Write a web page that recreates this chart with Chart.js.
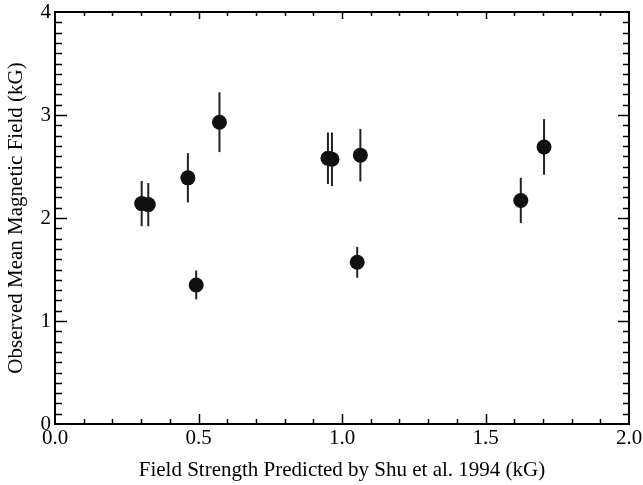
<!DOCTYPE html>
<html>
<head>
<meta charset="utf-8">
<script src="https://cdn.jsdelivr.net/npm/chart.js@4.4.1/dist/chart.umd.min.js"></script>
<style>
  html, body { margin: 0; padding: 0; background: #fff; }
  #plot { display: block; }
</style>
</head>
<body>
<canvas id="plot" width="643" height="485"></canvas>
<script>
// Shu et al. predicted field vs observed mean field (kG)
const predicted = [0.302, 0.325, 0.463, 0.492, 0.573, 0.951, 0.965, 1.053, 1.064, 1.623, 1.704];
const observed  = [2.14, 2.13, 2.39, 1.35, 2.93, 2.58, 2.57, 1.57, 2.61, 2.17, 2.69];
const obsError  = [0.22, 0.21, 0.24, 0.14, 0.29, 0.25, 0.26, 0.15, 0.255, 0.22, 0.27];

const xTicks = [0, 0.5, 1.0, 1.5, 2.0];
const yTicks = [0, 1, 2, 3, 4];

const points = predicted.map((x, i) => ({ x: x, y: observed[i] }));

// vertical error bars, drawn under the markers
const errorBars = {
  id: 'errorBars',
  beforeDatasetsDraw(chart) {
    const ctx = chart.ctx;
    const xs = chart.scales.x, ys = chart.scales.y;
    ctx.save();
    ctx.strokeStyle = '#222';
    ctx.lineWidth = 2;
    predicted.forEach((x, i) => {
      const px = xs.getPixelForValue(x);
      ctx.beginPath();
      ctx.moveTo(px, ys.getPixelForValue(observed[i] - obsError[i]));
      ctx.lineTo(px, ys.getPixelForValue(observed[i] + obsError[i]));
      ctx.stroke();
    });
    ctx.restore();
  }
};

// box frame with inward ticks on all four sides
const frame = {
  id: 'frame',
  afterDraw(chart) {
    const ctx = chart.ctx;
    const a = chart.chartArea;
    const xs = chart.scales.x, ys = chart.scales.y;
    ctx.save();
    ctx.strokeStyle = '#000';
    ctx.lineWidth = 2;
    ctx.strokeRect(a.left, a.top, a.right - a.left, a.bottom - a.top);
    ctx.lineWidth = 1.5;
    ctx.beginPath();
    for (let k = 1; k < 20; k++) {
      const v = k / 10;
      const major = k % 5 === 0;
      const px = Math.round(xs.getPixelForValue(v)) + 0.5;
      ctx.moveTo(px, a.bottom); ctx.lineTo(px, a.bottom - (major ? 10 : 5));
      ctx.moveTo(px, a.top); ctx.lineTo(px, a.top + (major ? 7 : 4));
    }
    for (let k = 1; k < 40; k++) {
      const v = k / 10;
      const major = k % 10 === 0;
      const py = Math.round(ys.getPixelForValue(v)) + 0.5;
      ctx.moveTo(a.left, py); ctx.lineTo(a.left + (major ? 12 : 7), py);
      ctx.moveTo(a.right, py); ctx.lineTo(a.right - (major ? 11 : 6), py);
    }
    ctx.stroke();
    ctx.restore();
  }
};

const serif = 'Liberation Serif';

new Chart(document.getElementById('plot'), {
  type: 'scatter',
  data: {
    datasets: [{
      data: points,
      backgroundColor: '#111',
      borderColor: '#111',
      borderWidth: 0,
      pointRadius: 7.5,
      pointHoverRadius: 7.5
    }]
  },
  options: {
    responsive: false,
    animation: false,
    events: [],
    layout: { padding: { left: 0, right: 14, top: 12, bottom: 0 } },
    plugins: { legend: { display: false }, tooltip: { enabled: false } },
    scales: {
      x: {
        type: 'linear',
        min: 0, max: 2,
        afterBuildTicks(s) { s.ticks = xTicks.map(v => ({ value: v })); },
        afterFit(s) { s.height = 61; s.paddingLeft = 0; s.paddingRight = 0; },
        grid: { display: false, drawTicks: false },
        border: { display: false },
        ticks: {
          color: '#000',
          padding: 2,
          maxRotation: 0,
          font: { family: serif, size: 21 },
          callback: v => v.toFixed(1)
        },
        title: {
          display: true,
          text: 'Field Strength Predicted by Shu et al. 1994 (kG)',
          color: '#000',
          font: { family: serif, size: 21 },
          padding: { top: 0, bottom: 2 }
        }
      },
      y: {
        type: 'linear',
        min: 0, max: 4,
        afterBuildTicks(s) { s.ticks = yTicks.map(v => ({ value: v })); },
        afterFit(s) { s.width = 55; s.paddingTop = 0; s.paddingBottom = 0; },
        grid: { display: false, drawTicks: false },
        border: { display: false },
        ticks: {
          color: '#000',
          padding: 4,
          font: { family: serif, size: 21 },
          callback: v => String(v)
        },
        title: {
          display: true,
          text: 'Observed Mean Magnetic Field (kG)',
          color: '#000',
          font: { family: serif, size: 21 },
          padding: { top: 4, bottom: 0 }
        }
      }
    }
  },
  plugins: [errorBars, frame]
});
</script>
</body>
</html>
